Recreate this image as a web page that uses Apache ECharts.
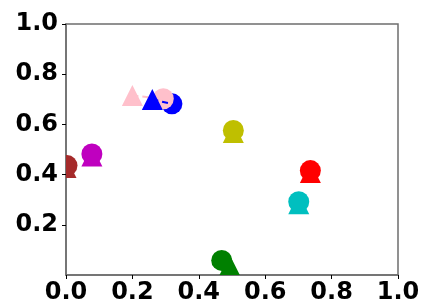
<!DOCTYPE html>
<html>
<head>
<meta charset="utf-8">
<script src="https://cdn.jsdelivr.net/npm/echarts@6/dist/echarts.min.js"></script>
<style>
  html, body { margin: 0; padding: 0; background: #fff; }
  #chart { width: 424px; height: 307px; }
</style>
</head>
<body>
<div id="chart"></div>
<script>
/* ---------- data ---------- */
const names   = ['brown', 'magenta', 'yellow', 'red', 'cyan', 'green', 'pink', 'blue']
const colors  = ['#a52a2a', '#bf00bf', '#bfbf00', '#ff0000', '#00bfbf', '#008000', '#ffc0cb', '#0000ff']
const circleX = [0.003, 0.078, 0.504, 0.736, 0.701, 0.469, 0.293, 0.319]
const circleY = [0.436, 0.482, 0.576, 0.416, 0.292, 0.058, 0.702, 0.682]
const triX    = [0.000, 0.078, 0.504, 0.736, 0.701, 0.493, 0.200, 0.260]
const triY    = [0.428, 0.474, 0.568, 0.408, 0.284, 0.039, 0.715, 0.699]
// pairs joined by a dashed line
const linked  = ['pink', 'blue']
const xTicks  = [0, 0.2, 0.4, 0.6, 0.8, 1.0]
const yTicks  = [0.2, 0.4, 0.6, 0.8, 1.0]

const chart = echarts.init(document.getElementById('chart'))

const axisColor = '#6e6e6e'
const markerR = 10.5
const labelStyle = {
  color: '#000',
  fontFamily: 'DejaVu Sans',
  fontWeight: 'bold',
  fontSize: 24,
  formatter: (v) => v.toFixed(1)
}

/** z level: blue circle under pink circle, blue triangle + line on top */
function zOf(name, kind) {
  if (name === 'blue' && kind !== 'circle') return 5
  if (name === 'pink' && kind === 'line') return 3
  if (kind === 'triangle') return name === 'pink' ? 4 : 2
  if (name === 'pink') return 4
  return 3
}

/** one marker drawn as custom series, clipped to the plot area */
function markerSeries(kind, x, y, color, z) {
  return {
    type: 'custom',
    clip: true,
    z,
    data: [[x, y]],
    renderItem: (params, api) => {
      const p = api.coord([api.value(0), api.value(1)])
      const style = { fill: color }
      if (kind === 'circle') {
        return { type: 'circle', shape: { cx: p[0], cy: p[1], r: markerR }, style }
      }
      return {
        type: 'polygon',
        shape: {
          points: [
            [p[0], p[1] - markerR],
            [p[0] - markerR, p[1] + markerR],
            [p[0] + markerR, p[1] + markerR]
          ]
        },
        style
      }
    }
  }
}

const series = []
names.forEach((n, i) => {
  if (linked.includes(n)) {
    series.push({
      type: 'line',
      data: [[triX[i], triY[i]], [circleX[i], circleY[i]]],
      showSymbol: false,
      lineStyle: { color: colors[i], width: 2, type: [6, 4] },
      z: zOf(n, 'line'),
      silent: true
    })
  }
  series.push(markerSeries('triangle', triX[i], triY[i], colors[i], zOf(n, 'triangle')))
  series.push(markerSeries('circle', circleX[i], circleY[i], colors[i], zOf(n, 'circle')))
})

chart.setOption({
  animation: false,
  grid: {
    left: 66, right: 26, top: 24, bottom: 32,
    show: true,
    borderColor: axisColor,
    borderWidth: 1.5,
    backgroundColor: 'transparent'
  },
  xAxis: {
    type: 'value',
    min: 0, max: 1, interval: 0.2,
    splitLine: { show: false },
    axisLine: { show: true, lineStyle: { color: axisColor, width: 1.5 } },
    axisTick: { show: true, length: 4, lineStyle: { color: '#000' }, customValues: xTicks },
    axisLabel: { ...labelStyle, margin: 6, customValues: xTicks }
  },
  yAxis: {
    type: 'value',
    min: 0, max: 1, interval: 0.2,
    splitLine: { show: false },
    axisLine: { show: true, lineStyle: { color: axisColor, width: 1.5 } },
    axisTick: { show: true, length: 4, lineStyle: { color: '#000' }, customValues: yTicks },
    axisLabel: { ...labelStyle, margin: 8, customValues: yTicks }
  },
  series
})
</script>
</body>
</html>
